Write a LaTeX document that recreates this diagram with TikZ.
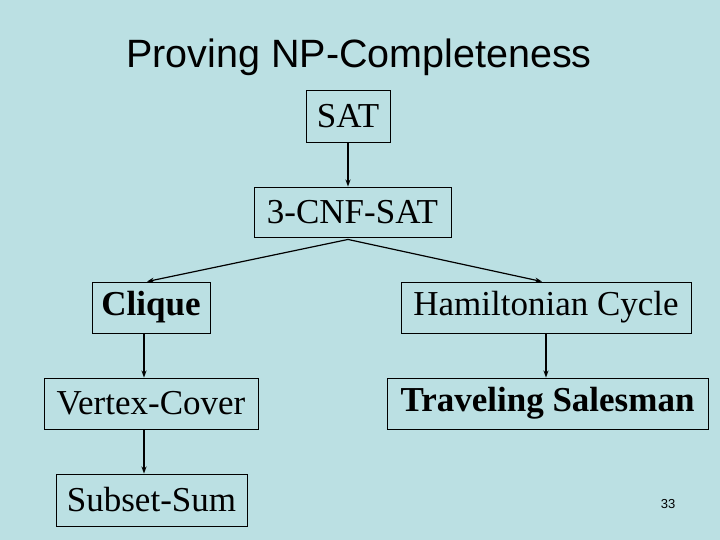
\documentclass[tikz,border=0pt]{standalone}
\usepackage{fontspec}
\setmainfont{Liberation Serif}
\newfontfamily\arialfont{Liberation Sans}
\usetikzlibrary{arrows.meta}
\definecolor{slidebg}{RGB}{187,224,227}
\tikzset{
  box/.style={draw=black, line width=0.9pt, inner sep=0pt, font=\fontsize{35}{40}\selectfont},
  link/.style={draw=black, line width=1.2pt, -{Stealth[length=7pt,width=5pt]}}
}
\begin{document}
\begin{tikzpicture}[x=1pt,y=-1pt]
\fill[slidebg] (0,0) rectangle (720,540);
\useasboundingbox (0,0) rectangle (720,540);
\node[font=\arialfont\fontsize{39.5}{44}\selectfont] (title) at (359,57) {Proving NP-Completeness};
\node[box, minimum width=84pt, minimum height=52pt] (sat) at (348,116) {SAT};
\node[box, minimum width=197pt, minimum height=50pt] (cnf) at (352.5,212) {3-CNF-SAT};
\node[box, minimum width=118pt, minimum height=51pt] (clique) at (151,307.5) {\bfseries Clique};
\node[box, minimum width=214pt, minimum height=51pt] (vc) at (151,403.5) {Vertex-Cover};
\node[box, minimum width=290pt, minimum height=51pt] (hc) at (546,307.5) {Hamiltonian Cycle};
\node[box, minimum width=321pt, minimum height=51pt] (ts) at (547.5,403.5) {\bfseries Traveling Salesman};
\node[box, minimum width=191pt, minimum height=52pt] (ss) at (151.5,500) {Subset-Sum};
\node[font=\arialfont\fontsize{13}{15}\selectfont] (pg) at (668,504) {33};
\coordinate (fork) at ([xshift=-4.5pt,yshift=-2pt]cnf.south);
\draw[link] (sat.south) -- (sat.south |- cnf.north);
\draw[link] (fork) -- ([xshift=-4pt]clique.north);
\draw[link] (fork) -- ([xshift=-4pt]hc.north);
\draw[link] ([xshift=-7pt]clique.south) -- ([xshift=-7pt]clique.south |- vc.north);
\draw[link] (hc.south) -- (hc.south |- ts.north);
\draw[link] ([xshift=-7pt]vc.south) -- ([xshift=-7pt]vc.south |- ss.north);
\end{tikzpicture}
\end{document}
